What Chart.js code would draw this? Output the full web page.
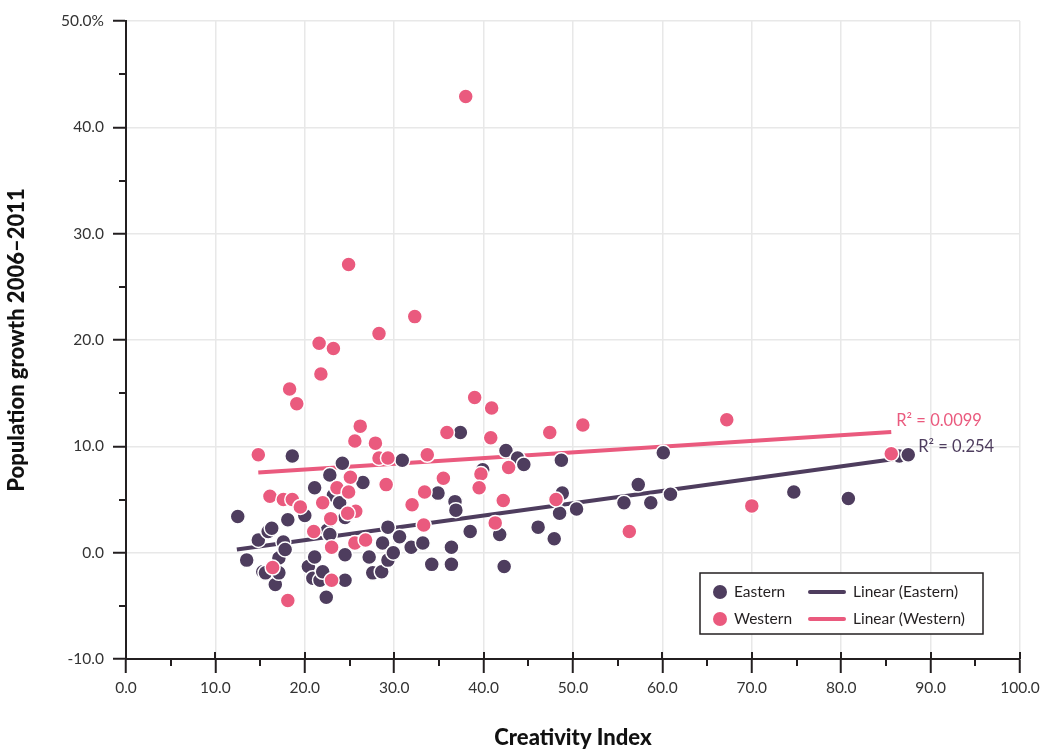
<!DOCTYPE html>
<html>
<head>
<meta charset="utf-8">
<title>Creativity Index vs Population growth</title>
<script src="https://cdn.jsdelivr.net/npm/chart.js@4.4.1/dist/chart.umd.min.js"></script>
<style>
  html, body { margin: 0; padding: 0; background: #ffffff; }
  canvas { display: block; }
</style>
</head>
<body>
<canvas id="chart" width="1049" height="751"></canvas>
<script>
// Creativity Index (x) and population growth 2006–2011 in % (y)
const easternX = [12.5, 13.5, 14.8, 15.3, 15.6, 15.9, 16.3, 16.7, 17.1, 17.1, 17.6, 17.8, 18.1, 18.6, 20.0, 20.4, 21.1, 21.1, 20.9, 21.7, 22.0, 22.4, 22.5, 22.8, 22.8, 24.2, 23.2, 23.9, 24.5, 24.5, 24.5, 26.5, 27.2, 27.6, 28.6, 28.7, 29.3, 29.3, 29.9, 30.6, 30.9, 31.9, 33.2, 34.2, 34.9, 36.4, 36.4, 36.8, 36.9, 37.4, 38.5, 39.9, 41.8, 42.3, 42.5, 43.8, 44.5, 46.1, 47.9, 48.5, 48.8, 48.7, 50.4, 55.7, 58.7, 57.3, 60.1, 60.9, 74.7, 80.8, 86.5, 87.5];
const easternY = [3.4, -0.7, 1.2, -1.8, -1.9, 2.0, 2.3, -3.0, -0.5, -1.9, 1.0, 0.3, 3.1, 9.1, 3.5, -1.3, -0.4, 6.1, -2.4, -2.6, -1.8, -4.2, 2.1, 1.7, 7.3, 8.4, 5.4, 4.7, 3.3, -0.2, -2.6, 6.6, -0.4, -1.9, -1.8, 0.9, 2.4, -0.7, 0.0, 1.5, 8.7, 0.5, 0.9, -1.1, 5.6, 0.5, -1.1, 4.8, 4.0, 11.3, 2.0, 7.8, 1.7, -1.3, 9.6, 8.9, 8.3, 2.4, 1.3, 3.7, 5.6, 8.7, 4.1, 4.7, 4.7, 6.4, 9.4, 5.5, 5.7, 5.1, 9.1, 9.2];

const westernX = [38.0, 24.9, 32.3, 28.3, 21.6, 23.2, 21.8, 18.3, 19.1, 39.0, 40.9, 67.2, 51.1, 26.2, 35.9, 47.4, 40.8, 25.6, 27.9, 14.8, 33.7, 28.3, 29.3, 85.6, 35.5, 39.7, 42.8, 25.1, 23.6, 24.9, 29.1, 39.5, 33.4, 16.1, 17.6, 18.6, 19.5, 22.0, 32.0, 42.2, 48.1, 70.0, 25.7, 24.8, 22.9, 21.0, 33.3, 41.3, 56.3, 23.0, 25.6, 26.8, 16.4, 23.0, 18.1];
const westernY = [42.9, 27.1, 22.2, 20.6, 19.7, 19.2, 16.8, 15.4, 14.0, 14.6, 13.6, 12.5, 12.0, 11.9, 11.3, 11.3, 10.8, 10.5, 10.3, 9.2, 9.2, 8.9, 8.9, 9.3, 7.0, 7.4, 8.0, 7.1, 6.1, 5.7, 6.4, 6.1, 5.7, 5.3, 5.0, 5.0, 4.3, 4.7, 4.5, 4.9, 5.0, 4.4, 3.9, 3.7, 3.2, 2.0, 2.6, 2.8, 2.0, 0.5, 0.9, 1.2, -1.4, -2.6, -4.5];

// Linear trend lines (end points) and their R² values
const easternTrendX = [12.4, 87.6];
const easternTrendY = [0.3, 9.0];
const westernTrendX = [14.8, 85.6];
const westernTrendY = [7.55, 11.35];
const rSquared = { eastern: '0.254', western: '0.0099' };

const seriesLabels = ['Eastern', 'Western', 'Linear (Eastern)', 'Linear (Western)'];
const xTickValues = [0, 10, 20, 30, 40, 50, 60, 70, 80, 90, 100];
const yTickValues = [-10, 0, 10, 20, 30, 40, 50];

const PURPLE = '#4e3d5e';
const PINK = '#ea5a7e';
const AXIS = '#231f20';
const FONT = 'Lato, "Open Sans", sans-serif';

const toPoints = (xs, ys) => xs.map((x, i) => ({ x: x, y: ys[i] }));

// Minor ticks on both axes, plus the short part of the x major ticks above the axis line
const minorTicks = {
  id: 'minorTicks',
  afterDraw(chart) {
    const { ctx, scales: { x, y } } = chart;
    ctx.save();
    ctx.strokeStyle = AXIS;
    ctx.lineWidth = 2;
    ctx.beginPath();
    for (let v = x.min + 5; v < x.max; v += 10) {
      const px = Math.round(x.getPixelForValue(v));
      ctx.moveTo(px, y.bottom);
      ctx.lineTo(px, y.bottom + 7);
    }
    xTickValues.forEach(v => {
      const px = Math.round(x.getPixelForValue(v));
      ctx.moveTo(px, y.bottom);
      ctx.lineTo(px, y.bottom - 7);
    });
    for (let v = y.min + 5; v < y.max; v += 10) {
      const py = Math.round(y.getPixelForValue(v));
      ctx.moveTo(x.left, py);
      ctx.lineTo(x.left - 7, py);
    }
    ctx.stroke();
    ctx.restore();
  }
};

// R² labels placed just past the end of each trend line
const rSquaredLabels = {
  id: 'rSquaredLabels',
  afterDatasetsDraw(chart) {
    const { ctx, scales: { x, y } } = chart;
    const items = [
      { text: 'R\u00b2 = ' + rSquared.western, color: PINK,
        px: x.getPixelForValue(westernTrendX[1]) + 5, py: y.getPixelForValue(westernTrendY[1]) - 11 },
      { text: 'R\u00b2 = ' + rSquared.eastern, color: PURPLE,
        px: x.getPixelForValue(easternTrendX[1]) + 9, py: y.getPixelForValue(easternTrendY[1]) - 10 }
    ];
    ctx.save();
    ctx.font = '16.5px ' + FONT;
    ctx.textBaseline = 'middle';
    ctx.textAlign = 'left';
    items.forEach(it => {
      ctx.fillStyle = it.color;
      ctx.fillText(it.text, it.px, it.py);
    });
    ctx.restore();
  }
};

// Boxed legend in the lower right corner of the plot area
const boxedLegend = {
  id: 'boxedLegend',
  afterDraw(chart) {
    const { ctx, chartArea } = chart;
    const w = 283, h = 61;
    const left = chartArea.right - 37 - w;
    const top = chartArea.bottom - 25 - h;
    ctx.save();
    ctx.fillStyle = '#ffffff';
    ctx.fillRect(left, top, w, h);
    ctx.strokeStyle = AXIS;
    ctx.lineWidth = 1.5;
    ctx.strokeRect(left, top, w, h);
    ctx.font = '15.5px ' + FONT;
    ctx.textBaseline = 'middle';
    ctx.fillStyle = '#231f20';
    const ds = chart.data.datasets;
    const rows = [top + 19, top + 46];
    [0, 1].forEach(r => {
      const cy = rows[r];
      // marker
      ctx.beginPath();
      ctx.arc(left + 20, cy, 7, 0, Math.PI * 2);
      ctx.fillStyle = ds[r].backgroundColor;
      ctx.fill();
      ctx.fillStyle = '#231f20';
      ctx.fillText(ds[r].label, left + 34, cy);
      // line sample
      ctx.beginPath();
      ctx.moveTo(left + 110, cy);
      ctx.lineTo(left + 144, cy);
      ctx.strokeStyle = ds[r + 2].borderColor;
      ctx.lineWidth = 4;
      ctx.lineCap = 'round';
      ctx.stroke();
      ctx.fillText(ds[r + 2].label, left + 153, cy);
    });
    ctx.restore();
  }
};

const pointStyle = {
  pointRadius: 7.5,
  pointHoverRadius: 7.5,
  pointBorderColor: '#ffffff',
  pointBorderWidth: 1.5,
  showLine: false
};

new Chart(document.getElementById('chart'), {
  type: 'scatter',
  data: {
    datasets: [
      Object.assign({
        label: seriesLabels[0],
        data: toPoints(easternX, easternY),
        backgroundColor: PURPLE,
        borderColor: PURPLE,
        order: 2
      }, pointStyle),
      Object.assign({
        label: seriesLabels[1],
        data: toPoints(westernX, westernY),
        backgroundColor: PINK,
        borderColor: PINK,
        order: 1
      }, pointStyle),
      {
        label: seriesLabels[2],
        data: toPoints(easternTrendX, easternTrendY),
        showLine: true,
        borderColor: PURPLE,
        backgroundColor: PURPLE,
        borderWidth: 4,
        pointRadius: 0,
        order: 4
      },
      {
        label: seriesLabels[3],
        data: toPoints(westernTrendX, westernTrendY),
        showLine: true,
        borderColor: PINK,
        backgroundColor: PINK,
        borderWidth: 4,
        pointRadius: 0,
        order: 3
      }
    ]
  },
  options: {
    responsive: false,
    animation: false,
    layout: { padding: { top: 21, right: 29, left: 0, bottom: 0 } },
    plugins: {
      legend: { display: false },
      tooltip: { enabled: false }
    },
    scales: {
      x: {
        type: 'linear',
        min: 0,
        max: 100,
        afterBuildTicks: s => { s.ticks = xTickValues.map(v => ({ value: v })); },
        afterFit: s => { s.height = 92; },
        ticks: {
          callback: v => Number(v).toFixed(1),
          font: { family: FONT, size: 15.5 },
          color: '#333333',
          padding: 6,
          maxRotation: 0
        },
        grid: {
          color: '#e8e8e8',
          lineWidth: 1.5,
          drawTicks: true,
          tickLength: 14,
          tickColor: AXIS,
          tickWidth: 2
        },
        border: { display: true, color: AXIS, width: 2 },
        title: {
          display: true,
          text: 'Creativity Index',
          font: { family: FONT, size: 22, weight: '900' },
          color: '#111111',
          padding: { top: 0, bottom: 0 }
        }
      },
      y: {
        type: 'linear',
        min: -10,
        max: 50,
        afterBuildTicks: s => { s.ticks = yTickValues.map(v => ({ value: v })); },
        afterFit: s => { s.width = 126; },
        ticks: {
          callback: v => (v === 50 ? '50.0%' : Number(v).toFixed(1)),
          font: { family: FONT, size: 15.5 },
          color: '#333333',
          padding: 9
        },
        grid: {
          color: '#e8e8e8',
          lineWidth: 1.5,
          drawTicks: true,
          tickLength: 13,
          tickColor: AXIS,
          tickWidth: 2
        },
        border: { display: true, color: AXIS, width: 2 },
        title: {
          display: true,
          text: 'Population growth 2006\u20132011',
          font: { family: FONT, size: 22, weight: '900' },
          color: '#111111',
          padding: { top: 4, bottom: 0 }
        }
      }
    }
  },
  plugins: [minorTicks, rSquaredLabels, boxedLegend]
});
</script>
</body>
</html>
